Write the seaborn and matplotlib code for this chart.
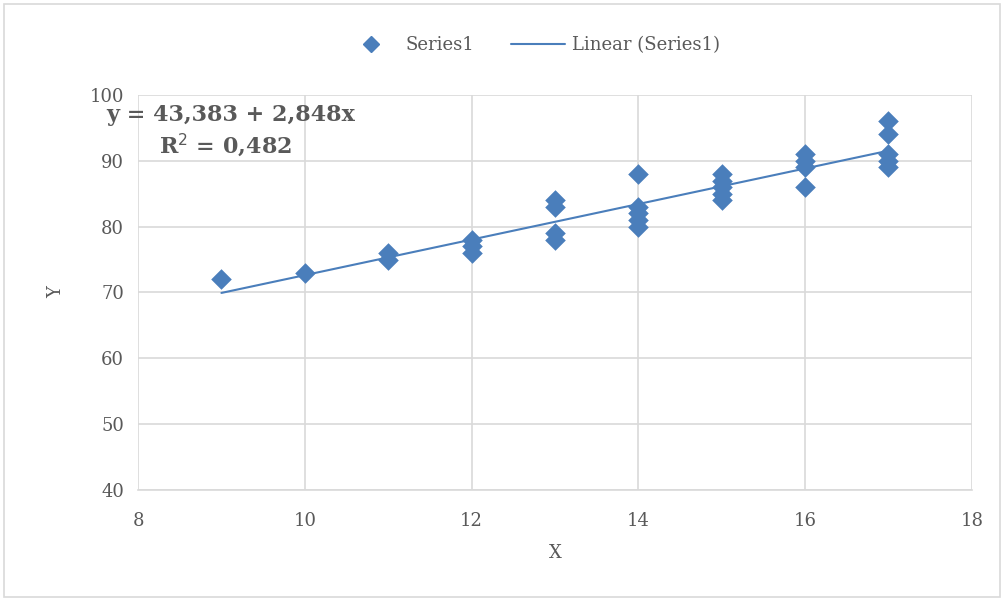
import matplotlib
matplotlib.use("Agg")
import matplotlib.pyplot as plt
import numpy as np
import pandas as pd
import seaborn as sns
from matplotlib.patches import Rectangle
from matplotlib.lines import Line2D

# values
x_vals = [9, 10, 11, 11, 12, 12, 12, 13, 13, 13, 13, 14, 14, 14, 14, 14,
          15, 15, 15, 15, 15, 16, 16, 16, 16, 17, 17, 17, 17, 17]
y_vals = [72, 73, 75, 76, 76, 77, 78, 78, 79, 83, 84, 80, 81, 82, 83, 88,
          84, 85, 86, 87, 88, 86, 89, 90, 91, 89, 90, 91, 94, 96]
x_ticks = [8, 10, 12, 14, 16, 18]
y_ticks = [40, 50, 60, 70, 80, 90, 100]
eq_text = "y = 43,383 + 2,848x"
r2_text = "R$^2$ = 0,482"

df = pd.DataFrame({"X": x_vals, "Y": y_vals})

blue = "#4a7ebb"
grid = "#d9d9d9"
txt = "#595959"

sns.set_theme(style="white")
plt.rcParams["font.family"] = ["DejaVu Serif"]

fig = plt.figure(figsize=(10.04, 5.99), dpi=100)
ax = fig.add_axes([0.1375, 0.182, 0.8305, 0.6595])

sns.regplot(data=df, x="X", y="Y", ax=ax, ci=None, truncate=True, marker="D",
            scatter_kws={"s": 110, "color": blue, "linewidths": 0, "alpha": 1, "zorder": 3},
            line_kws={"color": blue, "lw": 1.5, "zorder": 2})

ax.set_xlim(8, 18)
ax.set_ylim(40, 100)
ax.set_xticks(x_ticks)
ax.set_yticks(y_ticks)
ax.grid(True, color=grid, lw=1.2)
ax.set_axisbelow(True)
for s in ["top", "right", "left"]:
    ax.spines[s].set_visible(False)
ax.spines["bottom"].set_color(grid)
ax.spines["bottom"].set_linewidth(1.2)
ax.tick_params(length=0, labelsize=13, labelcolor=txt)
ax.tick_params(axis="x", pad=16)
ax.tick_params(axis="y", pad=10)
ax.set_xlabel("X", fontsize=13, color=txt, labelpad=10)
ax.set_ylabel("Y", fontsize=13, color=txt, labelpad=18)

fig.text(0.106, 0.808, eq_text, fontsize=16, fontweight="bold", color=txt,
         ha="left", va="center")
fig.text(0.225, 0.757, r2_text, fontsize=16, fontweight="bold", color=txt,
         ha="center", va="center")

handles = [Line2D([], [], ls="none", marker="D", color=blue, markersize=8),
           Line2D([], [], color=blue, lw=1.5)]
leg = fig.legend(handles, ["Series1", "Linear (Series1)"], loc="center",
                 bbox_to_anchor=(0.53, 0.925), ncol=2, frameon=False,
                 fontsize=13, handlelength=3.0, columnspacing=2.0, handletextpad=0.4)
for t in leg.get_texts():
    t.set_color(txt)

fig.patches.append(Rectangle((0.004, 0.004), 0.992, 0.99, transform=fig.transFigure,
                             fill=False, edgecolor=grid, lw=1.2))

fig.savefig("out.png", dpi=100)
